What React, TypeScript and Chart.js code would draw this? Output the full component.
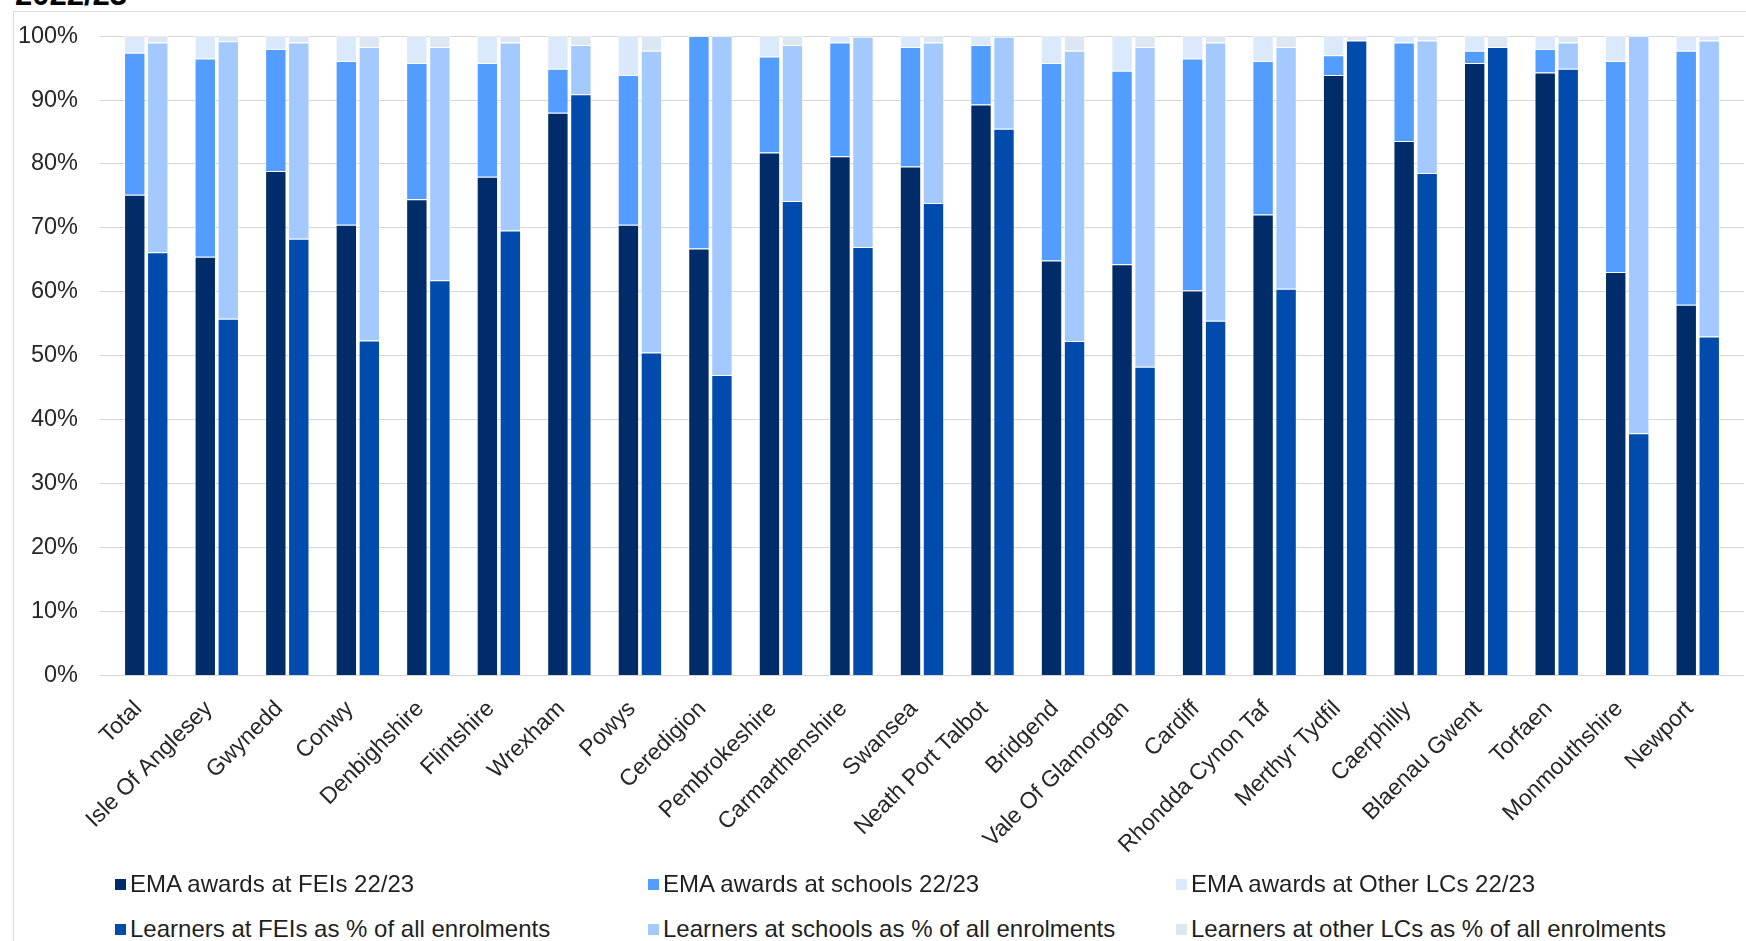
import React, { useEffect, useRef } from "react";
import { Chart, registerables } from "chart.js";

Chart.register(...registerables);

// Local authorities (plus the all-Wales total)
const categories = [
  "Total",
  "Isle Of Anglesey",
  "Gwynedd",
  "Conwy",
  "Denbighshire",
  "Flintshire",
  "Wrexham",
  "Powys",
  "Ceredigion",
  "Pembrokeshire",
  "Carmarthenshire",
  "Swansea",
  "Neath Port Talbot",
  "Bridgend",
  "Vale Of Glamorgan",
  "Cardiff",
  "Rhondda Cynon Taf",
  "Merthyr Tydfil",
  "Caerphilly",
  "Blaenau Gwent",
  "Torfaen",
  "Monmouthshire",
  "Newport",
];

// Share of EMA awards by provider type, 2022/23 (%)
const emaFei = [75.2, 65.5, 78.9, 70.5, 74.5, 78.0, 88.0, 70.5, 66.8, 81.8, 81.2, 79.6, 89.3, 64.9, 64.3, 60.2, 72.1, 93.9, 83.6, 95.8, 94.3, 63.1, 58.0];
const emaSchools = [22.2, 31.0, 19.1, 25.6, 21.3, 17.8, 6.9, 23.4, 33.2, 15.0, 17.8, 18.7, 9.3, 30.9, 30.3, 36.3, 24.0, 3.1, 15.4, 1.9, 3.7, 33.0, 39.7];
const emaOther = [2.6, 3.5, 2.0, 3.9, 4.2, 4.2, 5.1, 6.1, 0.0, 3.2, 1.0, 1.7, 1.4, 4.2, 5.4, 3.5, 3.9, 3.0, 1.0, 2.3, 2.0, 3.9, 2.3];

// Learners by provider type as % of all enrolments
const learnFei = [66.2, 55.8, 68.3, 52.4, 61.8, 69.6, 90.9, 50.5, 47.0, 74.2, 67.0, 73.9, 85.5, 52.3, 48.3, 55.5, 60.5, 99.3, 78.6, 98.3, 94.9, 37.9, 53.0];
const learnSchools = [32.8, 43.4, 30.7, 45.9, 36.5, 29.4, 7.7, 47.2, 53.0, 24.4, 32.9, 25.1, 14.4, 45.4, 50.0, 43.5, 37.8, 0.0, 20.7, 0.0, 4.1, 62.1, 46.3];
const learnOther = [1.0, 0.8, 1.0, 1.7, 1.7, 1.0, 1.4, 2.3, 0.0, 1.4, 0.1, 1.0, 0.1, 2.3, 1.7, 1.0, 1.7, 0.7, 0.7, 1.7, 1.0, 0.0, 0.7];

const seriesLabels = [
  "EMA awards at FEIs 22/23",
  "EMA awards at schools 22/23",
  "EMA awards at Other LCs 22/23",
  "Learners at FEIs as % of all enrolments",
  "Learners at schools as % of all enrolments",
  "Learners at other LCs as % of all enrolments",
];

const seriesColors = ["#002d69", "#529dff", "#dbe9fd", "#004bab", "#a3c9ff", "#dde7f3"];

const FONT = "'Liberation Sans', Arial, sans-serif";
const W = 1746;
const CANVAS_H = 880;
const PLOT_LEFT = 111;
const PLOT_RIGHT = 1733;
const PLOT_TOP = 32;
const PLOT_BOTTOM = 675.5;
const GRID = "#d6d6d6";

export default function App() {
  const canvasRef = useRef<HTMLCanvasElement | null>(null);

  useEffect(() => {
    const canvas = canvasRef.current;
    if (!canvas) return;
    const values = [emaFei, emaSchools, emaOther, learnFei, learnSchools, learnOther];
    const stacks = ["ema", "ema", "ema", "learn", "learn", "learn"];
    const chart = new Chart(canvas, {
      type: "bar",
      data: {
        labels: categories,
        datasets: values.map((data, i) => ({
          label: seriesLabels[i],
          data,
          stack: stacks[i],
          backgroundColor: seriesColors[i],
          borderColor: "rgba(255,255,255,0.55)",
          borderWidth: 1,
          categoryPercentage: 0.652,
          barPercentage: 0.93,
        })),
      },
      options: {
        responsive: false,
        animation: false,
        devicePixelRatio: 1,
        layout: {
          padding: { left: 0, right: W - PLOT_RIGHT - 11, top: PLOT_TOP, bottom: 0 },
        },
        plugins: {
          legend: { display: false },
          tooltip: { enabled: false },
        },
        scales: {
          x: {
            stacked: true,
            grid: { display: false },
            border: { display: false },
            ticks: {
              autoSkip: false,
              minRotation: 45,
              maxRotation: 45,
              padding: 12,
              labelOffset: -8,
              color: "#262626",
              font: { family: FONT, size: 23 },
            },
            afterFit: (scale: any) => {
              scale.height = CANVAS_H - PLOT_BOTTOM;
            },
          },
          y: {
            stacked: true,
            min: 0,
            max: 100,
            position: "left",
            border: { display: false },
            grid: { color: GRID, lineWidth: 1, drawTicks: true, tickLength: 11 },
            ticks: {
              stepSize: 10,
              padding: 22,
              color: "#262626",
              font: { family: FONT, size: 23.5 },
              callback: (v: any) => `${v}%`,
            },
            afterFit: (scale: any) => {
              scale.width = PLOT_LEFT;
            },
          },
          yRight: {
            min: 0,
            max: 100,
            position: "right",
            border: { display: false },
            grid: { color: GRID, lineWidth: 1, drawOnChartArea: false, drawTicks: true, tickLength: 11 },
            ticks: { stepSize: 10, display: false },
            afterFit: (scale: any) => {
              scale.width = 11;
            },
          },
        },
      },
    });
    return () => chart.destroy();
  }, []);

  const legendCols = [115, 648, 1176];
  const legendRows = [884, 929];

  return (
    <div
      style={{
        position: "absolute",
        left: 0,
        top: 0,
        width: W,
        height: 941,
        overflow: "hidden",
        background: "#fff",
        fontFamily: FONT,
      }}
    >
      <div
        style={{
          position: "absolute",
          left: 15,
          top: -21,
          fontSize: 31,
          lineHeight: "31px",
          fontWeight: 700,
          color: "#000",
          whiteSpace: "nowrap",
        }}
      >
        2022/23
      </div>
      <div
        style={{
          position: "absolute",
          left: 13,
          top: 11,
          width: 1800,
          height: 1000,
          borderLeft: "1.5px solid #d9d9d9",
          borderTop: "1.5px solid #d9d9d9",
        }}
      />
      <canvas
        ref={canvasRef}
        width={W}
        height={CANVAS_H}
        style={{ position: "absolute", left: 0, top: 0, width: W, height: CANVAS_H }}
      />
      {seriesLabels.map((label, i) => {
        const col = i % 3;
        const row = Math.floor(i / 3);
        return (
          <div
            key={label}
            style={{
              position: "absolute",
              left: legendCols[col],
              top: legendRows[row] - 14,
              height: 28,
              display: "flex",
              alignItems: "center",
              whiteSpace: "nowrap",
              fontSize: 24,
              color: "#1f1f1f",
            }}
          >
            <span
              style={{
                display: "inline-block",
                width: 11,
                height: 11,
                background: seriesColors[i],
                marginRight: 4,
              }}
            />
            {label}
          </div>
        );
      })}
    </div>
  );
}
